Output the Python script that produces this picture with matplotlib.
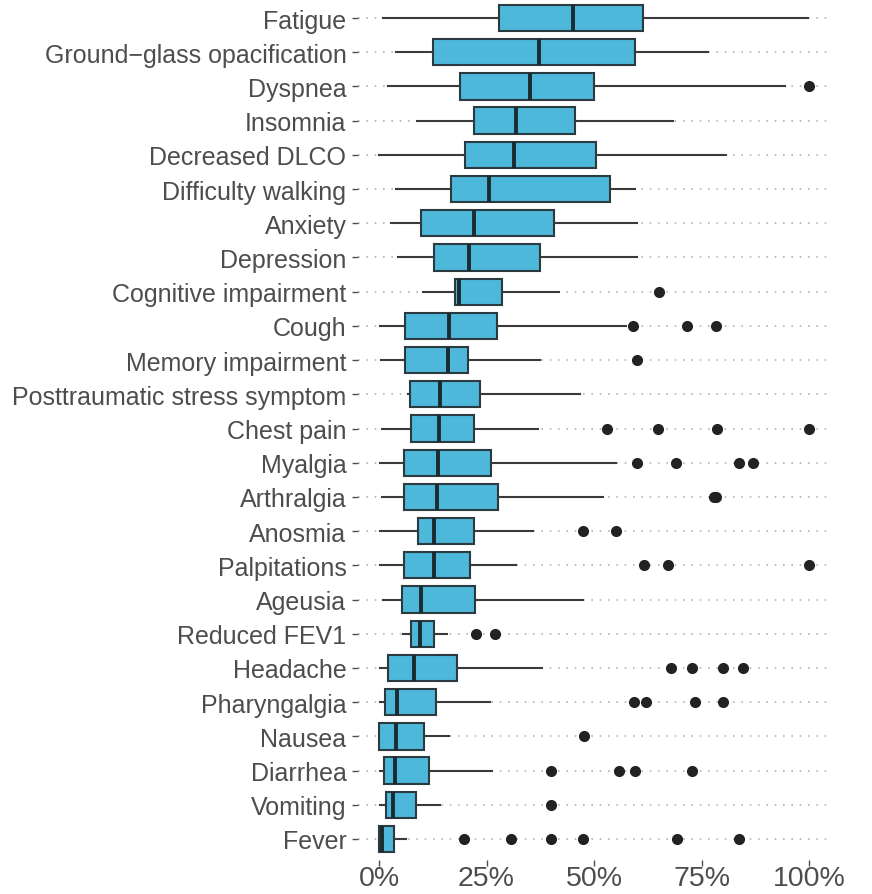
import matplotlib.pyplot as plt
from matplotlib.ticker import FuncFormatter

plt.rcParams['font.family'] = ['Liberation Sans', 'DejaVu Sans']

# symptoms listed top to bottom, values in percent
symptoms = ["Fatigue", "Ground\u2212glass opacification", "Dyspnea", "Insomnia",
            "Decreased DLCO", "Difficulty walking", "Anxiety", "Depression",
            "Cognitive impairment", "Cough", "Memory impairment",
            "Posttraumatic stress symptom", "Chest pain", "Myalgia", "Arthralgia",
            "Anosmia", "Palpitations", "Ageusia", "Reduced FEV1", "Headache",
            "Pharyngalgia", "Nausea", "Diarrhea", "Vomiting", "Fever"]

whis_lo = [0.9, 4.0, 2.0, 8.9, 0.0, 4.0, 2.9, 4.5, 10.3, 0.2, 0.4, 6.8, 0.6,
           0.2, 0.8, 0.2, 0.2, 1.0, 5.5, 0.2, 0.2, 0.0, 0.2, 0.2, 0.0]
q1 = [28.0, 12.6, 18.8, 22.1, 20.0, 16.8, 9.8, 12.7, 17.7, 6.1, 6.1, 7.3, 7.4,
      5.8, 5.9, 9.0, 5.9, 5.3, 7.4, 2.0, 1.4, 0.0, 1.2, 1.7, 0.0]
med = [45.2, 37.2, 35.1, 31.9, 31.4, 25.5, 22.2, 21.0, 18.7, 16.2, 16.1, 14.3,
       13.9, 13.8, 13.6, 12.7, 12.8, 9.8, 9.5, 8.1, 4.3, 3.9, 3.8, 3.3, 0.7]
q3 = [61.5, 59.6, 50.0, 45.5, 50.5, 53.8, 40.8, 37.5, 28.6, 27.4, 20.8, 23.6,
      22.2, 26.1, 27.6, 22.0, 21.2, 22.4, 12.9, 18.1, 13.3, 10.5, 11.6, 8.6, 3.4]
whis_hi = [99.8, 76.4, 94.4, 68.4, 80.6, 59.5, 59.9, 59.9, 41.9, 57.4, 37.4,
           46.7, 37.0, 55.0, 52.2, 35.7, 31.9, 47.4, 15.9, 37.8, 25.9, 16.3,
           26.3, 14.3, 6.3]
outliers = [
    [], [], [100.0], [], [], [], [], [],
    [65.0],
    [59.1, 71.7, 78.4],
    [59.9],
    [],
    [53.0, 64.8, 78.5, 100.0],
    [59.9, 69.0, 83.7, 87.0],
    [77.8, 78.4],
    [47.5, 55.0],
    [61.7, 67.3, 100.0],
    [],
    [22.5, 27.0],
    [67.9, 72.9, 79.9, 84.7],
    [59.3, 62.1, 73.6, 79.9],
    [47.7],
    [39.9, 55.8, 59.5, 72.9],
    [39.9],
    [19.8, 30.8, 39.9, 47.5, 69.3, 83.7],
]

stats = []
for i in range(len(symptoms)):
    stats.append(dict(label=symptoms[i], whislo=whis_lo[i], q1=q1[i], med=med[i],
                      q3=q3[i], whishi=whis_hi[i], fliers=outliers[i]))

n = len(symptoms)
ypos = list(range(n, 0, -1))

fig = plt.figure(figsize=(8.72, 8.95), dpi=100)
ax = fig.add_axes([357.5 / 872, 34.5 / 895, 473 / 872, 862 / 895])

edge = '#2b3a40'
ax.bxp(stats, positions=ypos, widths=0.77, orientation='horizontal',
       patch_artist=True, showcaps=False,
       boxprops=dict(facecolor='#4db8d9', edgecolor=edge, linewidth=1.5),
       medianprops=dict(color='#1b2b30', linewidth=2.8),
       whiskerprops=dict(color='#3a3a3a', linewidth=1.5),
       flierprops=dict(marker='o', markerfacecolor='#222222',
                       markeredgecolor='#222222', markersize=7))

ax.set_xlim(-5, 105)
ax.set_ylim(0.4, n + 0.6)
ax.set_yticks(ypos)
ax.set_yticklabels(symptoms)
ax.set_xticks([0, 25, 50, 75, 100])
ax.xaxis.set_major_formatter(FuncFormatter(lambda v, p: f"{v:.0f}%"))

ax.grid(axis='y', color='#b4b4b4', linestyle=(0, (1, 4)), linewidth=1.2)
ax.grid(axis='x', visible=False)
ax.set_axisbelow(True)
for s in ax.spines.values():
    s.set_visible(False)

ax.tick_params(axis='y', labelsize=18, labelcolor='#4d4d4d', color='#4d4d4d',
               length=4, width=1, pad=4)
ax.tick_params(axis='x', labelsize=20.5, labelcolor='#4d4d4d', color='#4d4d4d',
               length=4, width=1, pad=0)

fig.savefig('out.png', dpi=100)
